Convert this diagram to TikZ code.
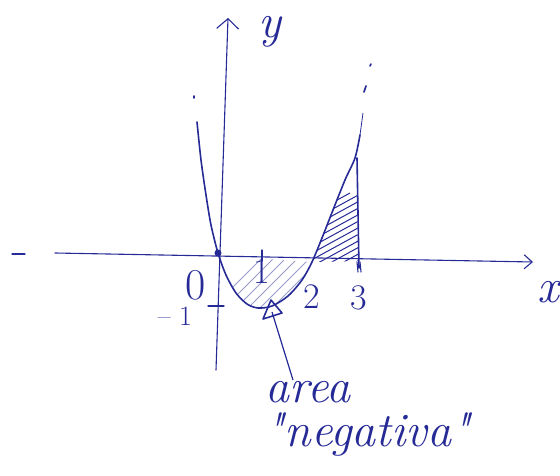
\documentclass[tikz,border=0pt]{standalone}
\usetikzlibrary{arrows.meta}
\definecolor{pen}{RGB}{38,42,150}
\definecolor{penlight}{RGB}{150,155,200}
\tikzset{
  ink/.style={draw=pen, line width=1.6pt, line cap=round, line join=round},
  axis/.style={draw=pen, line width=1.1pt, line cap=round},
  hatchlight/.style={draw=penlight, line width=0.8pt},
  hatchdark/.style={draw=pen, line width=1pt},
  lbl/.style={text=pen, inner sep=0pt, font=\fontsize{36}{40}\selectfont},
  big/.style={text=pen, inner sep=0pt, font=\itshape\fontsize{48}{54}\selectfont}
}
\begin{document}
\begin{tikzpicture}[x=1pt,y=-1pt]
\useasboundingbox (0,0) rectangle (560,476);
% hatching between 0 and 2 (below axis)
\begin{scope}
  \clip plot[smooth] coordinates {(218,256) (226,275) (236,293) (247,304) (258,308) (272,306) (288,296) (302,280) (312,262)} -- cycle;
  \foreach \i in {200,212,...,320} \draw[hatchlight] (\i,320) -- ++(70,-70);
\end{scope}
% hatching between 2 and 3 (above axis)
\begin{scope}
  \clip plot[smooth] coordinates {(312,262) (322,238) (333,210) (345,180) (357,160)} -- (358,261) -- cycle;
  \foreach \i in {200,212,...,380} \draw[hatchdark] (\i,275) -- ++(150,-82);
\end{scope}
% axes
\coordinate (xs) at (55,253);
\coordinate (xe) at (533,262);
\coordinate (ys) at (216,370);
\coordinate (ye) at (228,18);
\draw[axis] (12,254) -- (25,254);
\draw[axis, -{Straight Barb[length=8pt,width=14pt]}] (xs) -- (xe);
\draw[axis, -{Straight Barb[length=10pt,width=22pt]}] (ys) -- (ye);
% ticks
\draw[axis] (262,250) -- (262,261);
\draw[axis] (208,306) -- (224,306);
\draw[axis] (357,262) -- (358,272);
\draw[axis] (360,262) -- (361,272);
% vertical line at x=3
\draw[ink] (357,158) -- (359,268);
% parabola
\draw[ink] plot[smooth] coordinates {(197,122) (201,160) (206,195) (211,225) (218,253) (226,275) (236,293) (247,304) (258,308) (272,306) (288,296) (302,280) (312,262) (322,238) (333,210) (345,180) (355,158) (360,135)};
\draw[draw=pen, line width=0.8pt] (360,135) -- (363,113);
\draw[ink] (364,92) -- (366,86);
\draw[ink] (370,66) -- (371,64);
\draw[ink] (194,96) -- (194,98);
% origin dot
\fill[pen] (218,253) circle (3.5pt);
% arrow triangle and pointer
\coordinate (tri) at (272,312);
\coordinate (lead) at (293,380);
\draw[ink] (263,319) -- (271,300) -- (282,313) -- cycle;
\draw[draw=pen, line width=1.2pt] (tri) -- (lead);
% labels
\node[big] (ylab) at (270,32) {y};
\node[big] (xlab) at (548,292) {x};
\node[lbl, font=\fontsize{44}{48}\selectfont] (o) at (196,285) {0};
\node[lbl] (one) at (262,272) {1};
\node[lbl] (two) at (312,297) {2};
\node[lbl] (three) at (359,298) {3};
\node[lbl, font=\fontsize{28}{32}\selectfont] (mone) at (175,316) {-- 1};
\node[big] (area) at (308,392) {area};
\node[big] (neg) at (368,434) {\textquotedbl negativa\textquotedbl};
\end{tikzpicture}
\end{document}
